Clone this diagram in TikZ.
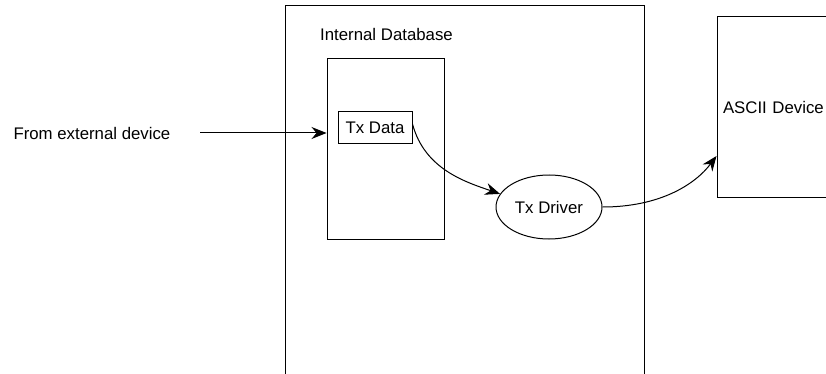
\documentclass[tikz,border=0pt]{standalone}
\usepackage{fontspec}
\setmainfont{Liberation Sans}
\usetikzlibrary{arrows.meta,shapes.geometric}
\begin{document}
\begin{tikzpicture}[x=1pt,y=-1pt,line width=1pt,
  font=\fontsize{16.8}{20}\selectfont,
  flow/.style={-{Stealth[length=15pt,width=12pt,inset=5pt]}},
  box/.style={draw,inner sep=0pt},
  label/.style={inner sep=0pt}]
  \clip (0,0) rectangle (826,374);
  % outer frame and its title
  \node[box,minimum width=359pt,minimum height=420pt] (db) at (464.5,216) {};
  \node[label] (dbtitle) at (386.5,34) {Internal Database};
  \node[box,minimum width=117pt,minimum height=180pt] (store) at (385.5,149) {};
  \node[box,minimum width=74pt,minimum height=32pt] (txdata) at (375,128) {Tx Data};
  \node[box,ellipse,minimum width=106pt,minimum height=64pt] (txdriver) at (549,207) {Tx Driver};
  \node[box,minimum height=180pt,text width=190pt,align=left,inner xsep=6pt]
    (ascii) at (818,107) {ASCII Device};
  % incoming data
  \node[label,anchor=west] (from) at (13,133) {From external device};
  \coordinate (ext) at (200,133);
  \draw[flow] (ext) -- (ext -| store.west);
  \draw[flow] ([yshift=4pt]txdata.east) .. controls +(12,45) and +(-35,-12) .. (txdriver.165);
  \draw[flow] (txdriver.east) .. controls +(58,0) and +(-21,28) .. ([yshift=-49pt]ascii.west);
\end{tikzpicture}
\end{document}
